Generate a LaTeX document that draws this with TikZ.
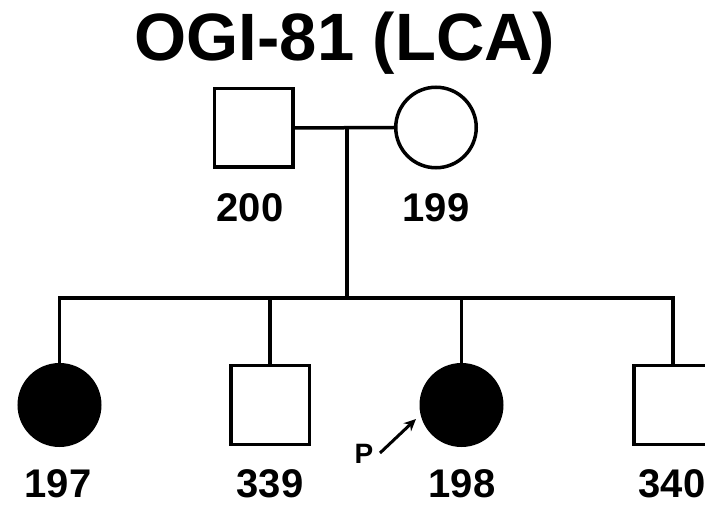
\documentclass[tikz,border=0pt]{standalone}
\usepackage{fontspec}
\setmainfont{Liberation Sans}
\usetikzlibrary{arrows.meta}
\begin{document}
\begin{tikzpicture}[x=1pt,y=-1pt,
  line width=3.5pt,
  male/.style={draw,rectangle,minimum size=78.5pt,inner sep=0pt},
  female/.style={draw,circle,minimum size=80.5pt,inner sep=0pt},
  affected/.style={fill=black},
  idlabel/.style={font=\fontsize{40}{42}\selectfont\bfseries,anchor=base,inner sep=0pt},
  titlestyle/.style={font=\fontsize{67}{70}\selectfont\bfseries,anchor=base,inner sep=0pt}]
\useasboundingbox (0,0) rectangle (705,505);
\fill[white] (0,0) rectangle (705,505);
\node[titlestyle] (title) at (345,61) {OGI-81 (LCA)};
% parents
\node[male] (n200) at (253.5,128) {};
\node[female] (n199) at (436,127.5) {};
\coordinate (m) at (347,128);
\coordinate (sib) at (347,298);
\draw (n200.east) -- (n199.west);
\draw (m) -- (sib);
% children
\node[female,affected] (n197) at (59.5,405) {};
\node[male] (n339) at (270,405) {};
\node[female,affected] (n198) at (461.5,405) {};
\node[male] (n340) at (673,405) {};
\draw[line cap=rect] (n197.north |- sib) -- (n340.north |- sib);
\foreach \c in {n197,n339,n198,n340}
  \draw (\c.north) -- (\c.north |- sib);
% labels
\node[idlabel] (l200) at (250,222) {200};
\node[idlabel] (l199) at (436,222) {199};
\node[idlabel] (l197) at (58,497) {197};
\node[idlabel] (l339) at (270,497) {339};
\node[idlabel] (l198) at (462,497) {198};
\node[idlabel,anchor=base west] (l340) at (637,497) {340};
% proband
\node[font=\fontsize{28}{29}\selectfont\bfseries,anchor=base,inner sep=0pt] (P) at (364,463) {P};
\coordinate (ptail) at (380,453);
\coordinate (phead) at (416,419);
\draw[line width=3pt,-{Stealth[length=12pt,width=11pt]}] (ptail) -- (phead);
\end{tikzpicture}
\end{document}
